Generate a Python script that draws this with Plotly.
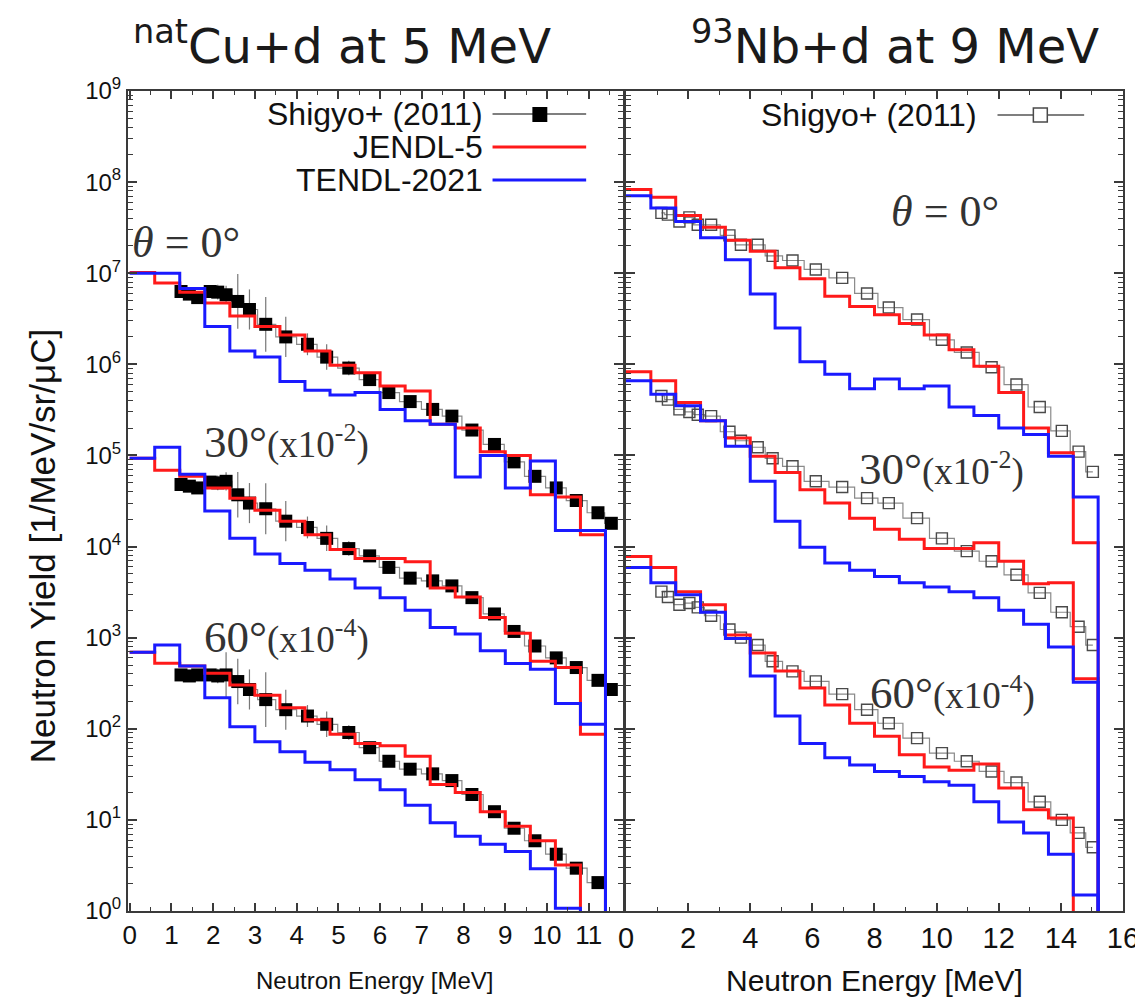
import plotly.graph_objects as go

# ---------------- data ----------------
# natCu+d at 5 MeV : calculation bins (MeV)
cu_edges = [0.0, 0.6, 1.2, 1.8, 2.4, 3.0, 3.6, 4.2, 4.8, 5.4, 6.0, 6.6, 7.2, 7.8, 8.4, 9.0, 9.6, 10.2, 10.8, 11.4]
cu_jendl_0 = [1.02e7, 7.8e6, 6.2e6, 4.7e6, 3.4e6, 2.6e6, 2.1e6, 1.4e6, 9.8e5, 8.1e5, 5.8e5, 5.1e5, 2.2e5, 2.0e5, 1.1e5, 1.0e5, 3.7e4, 3.5e4, 1.35e4]
cu_tendl_0 = [1.0e7, 1.0e7, 6.8e6, 2.6e6, 1.4e6, 1.2e6, 6.5e5, 5.2e5, 4.6e5, 4.9e5, 3.2e5, 2.4e5, 2.2e5, 5.8e4, 1.0e5, 4.4e4, 8.7e4, 1.5e4, 1.5e4]
cu_jendl_30 = [9.3e4, 6.9e4, 5.9e4, 4.4e4, 3.4e4, 2.5e4, 1.9e4, 1.35e4, 9.3e3, 7.4e3, 7.4e3, 6.8e3, 3.5e3, 2.8e3, 1.66e3, 1.12e3, 5.5e2, 4.7e2, 87]
cu_tendl_30 = [9.3e4, 1.23e5, 6.2e4, 2.45e4, 1.23e4, 8.3e3, 6.5e3, 5.5e3, 4.4e3, 3.5e3, 2.75e3, 2.0e3, 1.29e3, 1.1e3, 7.2e2, 5.2e2, 4.5e2, 1.9e2, 1.12e2]
cu_jendl_60 = [690, 525, 490, 407, 302, 234, 170, 126, 87, 69, 65, 50, 24.5, 20, 12.3, 8.5, 5.9, 3.2, None]
cu_tendl_60 = [690, 830, 490, 219, 105, 72, 56, 43, 35.5, 27.5, 21.4, 14.5, 9.3, 6.6, 5.4, 4.5, 2.9, 1.07, None]

cu_exp_e = [1.23, 1.43, 1.63, 1.93, 2.11, 2.31, 2.59, 2.87, 3.26, 3.74, 4.26, 4.72, 5.25, 5.75, 6.21, 6.72, 7.26, 7.72, 8.2, 8.74, 9.21, 9.71, 10.22, 10.7, 11.22, 11.54]
cu_exp_0 = [6.3e6, 5.9e6, 5.4e6, 6.3e6, 6.2e6, 5.8e6, 4.9e6, 4.0e6, 2.75e6, 2.0e6, 1.66e6, 1.2e6, 9.1e5, 6.8e5, 4.9e5, 3.9e5, 3.2e5, 2.7e5, 1.9e5, 1.32e5, 8.5e4, 5.9e4, 4.4e4, 3.2e4, 2.35e4, 1.8e4]
cu_exp_30 = [4.8e4, 4.6e4, 4.4e4, 5.1e4, 5.0e4, 5.2e4, 3.7e4, 3.0e4, 2.6e4, 1.9e4, 1.62e4, 1.23e4, 9.5e3, 7.9e3, 5.9e3, 4.5e3, 4.2e3, 3.7e3, 2.75e3, 1.82e3, 1.17e3, 8.1e2, 6.0e2, 4.7e2, 3.4e2, 2.7e2]
cu_exp_60 = [390, 380, 390, 390, 380, 390, 330, 270, 209, 162, 138, 112, 91, 62, 44, 36, 32, 27, 19, 12.3, 8.1, 5.9, 4.2, 2.95, 2.05, None]
cu_err_0 = [0.05, 0.06, 0.06, 0.06, 0.08, 0.10, 0.30, 0.22, 0.30, 0.22, 0.12, 0.14, 0.08, 0.06, 0.06, 0.05, 0.05, 0.05, 0.05, 0.04, 0.04, 0.04, 0.04, 0.04, 0.04, 0.04]
cu_err_30 = [0.05, 0.06, 0.06, 0.06, 0.08, 0.10, 0.25, 0.22, 0.28, 0.22, 0.12, 0.14, 0.08, 0.06, 0.06, 0.05, 0.05, 0.05, 0.05, 0.04, 0.04, 0.04, 0.04, 0.04, 0.04, 0.04]
cu_err_60 = [0.05, 0.06, 0.06, 0.06, 0.08, 0.25, 0.25, 0.22, 0.30, 0.22, 0.12, 0.14, 0.08, 0.06, 0.06, 0.05, 0.05, 0.05, 0.05, 0.04, 0.04, 0.04, 0.04, 0.04, 0.04, 0.04]

# 93Nb+d at 9 MeV
nb_edges = [0.0, 0.8, 1.6, 2.4, 3.2, 4.0, 4.8, 5.6, 6.4, 7.2, 8.0, 8.8, 9.6, 10.4, 11.2, 12.0, 12.8, 13.6, 14.4, 15.2]
nb_jendl_0 = [8.3e7, 6.8e7, 4.3e7, 3.2e7, 2.3e7, 1.74e7, 1.15e7, 8.7e6, 5.6e6, 4.3e6, 3.5e6, 2.8e6, 2.1e6, 1.45e6, 9.5e5, 4.9e5, 2.0e5, 1.07e5, 1.1e4]
nb_tendl_0 = [7.1e7, 5.2e7, 3.7e7, 2.45e7, 1.41e7, 5.9e6, 2.5e6, 1.07e6, 7.8e5, 5.4e5, 6.9e5, 5.4e5, 5.8e5, 3.4e5, 2.75e5, 2.0e5, 1.7e5, 9.8e4, 3.5e4]
nb_jendl_30 = [8.3e5, 6.6e5, 3.8e5, 2.4e5, 1.55e5, 9.8e4, 6.5e4, 4.2e4, 3.0e4, 2.05e4, 1.55e4, 1.2e4, 9.5e3, 9.5e3, 1.1e4, 6.9e3, 3.9e3, 4.0e3, 355]
nb_tendl_30 = [6.6e5, 4.7e5, 3.5e5, 2.4e5, 1.26e5, 5.2e4, 1.9e4, 9.8e3, 6.6e3, 5.5e3, 4.7e3, 4.0e3, 3.6e3, 3.2e3, 2.75e3, 2.0e3, 1.4e3, 7.9e2, 3.25e2]
nb_jendl_60 = [7.8e3, 5.9e3, 3.2e3, 2.3e3, 1.07e3, 680, 430, 280, 182, 115, 83, 52, 38, 35, 41, 22.4, 12.9, 10.5, None]
nb_tendl_60 = [5.9e3, 4.0e3, 2.95e3, 1.9e3, 980, 380, 138, 69, 48, 40, 34, 30, 26.3, 24, 15.8, 9.5, 7.2, 4.2, 1.5]

nb_exp_e = [1.14, 1.35, 1.72, 2.04, 2.31, 2.74, 3.33, 3.70, 4.24, 4.72, 5.36, 6.11, 6.96, 7.76, 8.46, 9.37, 10.17, 10.97, 11.77, 12.57, 13.32, 14.03, 14.57, 15.03]
nb_exp_0 = [4.6e7, 4.4e7, 3.7e7, 4.1e7, 3.4e7, 3.4e7, 2.6e7, 2.05e7, 2.05e7, 1.55e7, 1.38e7, 1.1e7, 8.9e6, 6.0e6, 4.2e6, 3.1e6, 1.86e6, 1.35e6, 9.3e5, 6.0e5, 3.4e5, 1.86e5, 1.1e5, 6.6e4]
nb_exp_30 = [4.5e5, 4.1e5, 3.2e5, 3.0e5, 2.8e5, 2.7e5, 1.82e5, 1.45e5, 1.23e5, 9.3e4, 7.6e4, 5.2e4, 4.5e4, 3.4e4, 3.0e4, 2.05e4, 1.23e4, 8.9e3, 6.9e3, 4.9e3, 3.1e3, 1.9e3, 1.32e3, 830]
nb_exp_60 = [3.2e3, 2.8e3, 2.3e3, 2.4e3, 2.15e3, 1.74e3, 1.23e3, 1.0e3, 830, 550, 427, 331, 240, 162, 115, 79, 54, 44, 34, 25.7, 15.8, 10.0, 7.2, 5.0]

cu_title = "<sup>nat</sup>Cu+d at 5 MeV"
nb_title = "<sup>93</sup>Nb+d at 9 MeV"
y_ticks = [1, 10, 100, 1e3, 1e4, 1e5, 1e6, 1e7, 1e8, 1e9]
y_ticktext = ["10<sup>%d</sup>" % k for k in range(10)]
cu_xticks = [0, 1, 2, 3, 4, 5, 6, 7, 8, 9, 10, 11]
nb_xticks = [0, 2, 4, 6, 8, 10, 12, 14, 16]

FLOOR = 1e-3  # value used for "no yield" (below the axis)

# ---------------- figure ----------------
W, H = 1143, 1003
L, R, T, B = 120, 24, 83, 100
PW, PH = W - L - R, H - T - B


def px(X):
    return (X - L) / PW


def py(Y):
    return (H - B - Y) / PH


RED = "#ff1a1a"
BLUE = "#1a1aff"

fig = go.Figure()


def step(edges, vals):
    ys = [v if v is not None else FLOOR for v in vals] + [FLOOR]
    return list(edges), ys


def add_exp(xa, ya, e, v, err, filled):
    kw = {}
    if err is not None:
        up = [None if val is None else val * (10 ** d - 1) for val, d in zip(v, err)]
        dn = [None if val is None else val * (1 - 10 ** (-d)) for val, d in zip(v, err)]
        kw["error_y"] = dict(type="data", array=up, arrayminus=dn, symmetric=False,
                             color="#777777", thickness=1.2, width=0)
    if filled:
        marker = dict(symbol="square", size=13, color="black")
    else:
        marker = dict(symbol="square-open", size=11, color="#4a4a4a", line=dict(width=1.4))
    fig.add_trace(go.Scatter(x=e, y=v, mode="lines+markers", xaxis=xa, yaxis=ya,
                             line=dict(shape="hvh", color="#8a8a8a", width=1.2),
                             marker=marker, showlegend=False, connectgaps=False, **kw))


def add_calc(xa, ya, edges, vals, color):
    xs, ys = step(edges, vals)
    fig.add_trace(go.Scatter(x=xs, y=ys, mode="lines", xaxis=xa, yaxis=ya,
                             line=dict(shape="hv", color=color, width=3),
                             showlegend=False))


for v, err in [(cu_exp_0, cu_err_0), (cu_exp_30, cu_err_30), (cu_exp_60, cu_err_60)]:
    add_exp("x", "y", cu_exp_e, v, err, True)
for v in [nb_exp_0, nb_exp_30, nb_exp_60]:
    add_exp("x2", "y2", nb_exp_e, v, None, False)

for vals in [cu_jendl_0, cu_jendl_30, cu_jendl_60]:
    add_calc("x", "y", cu_edges, vals, RED)
for vals in [cu_tendl_0, cu_tendl_30, cu_tendl_60]:
    add_calc("x", "y", cu_edges, vals, BLUE)
for vals in [nb_jendl_0, nb_jendl_30, nb_jendl_60]:
    add_calc("x2", "y2", nb_edges, vals, RED)
for vals in [nb_tendl_0, nb_tendl_30, nb_tendl_60]:
    add_calc("x2", "y2", nb_edges, vals, BLUE)

minor_y = [m * 10 ** k for k in range(9) for m in range(2, 10)]
AX = "#3a3a3a"
common_x = dict(ticks="inside", ticklen=8, tickwidth=1.5, tickcolor=AX, showline=True,
                linecolor=AX, linewidth=2, mirror="allticks", showgrid=False, zeroline=False)
common_y = dict(type="log", range=[0, 9], tickvals=y_ticks, ticktext=y_ticktext,
                ticks="inside", ticklen=9, tickwidth=1.5, tickcolor=AX, showline=True,
                linecolor=AX, linewidth=2, mirror="allticks", showgrid=False, zeroline=False,
                minor=dict(tickvals=minor_y, ticks="inside", ticklen=5, tickwidth=1, tickcolor=AX, showgrid=False))

fig.update_layout(
    width=W, height=H, margin=dict(l=L, r=R, t=T, b=B),
    paper_bgcolor="white", plot_bgcolor="white", showlegend=False,
    font=dict(family="Liberation Sans, Arial, sans-serif", color="#111111"),
    xaxis=dict(domain=[0, 497 / PW], range=[-0.04, 11.82], tickvals=cu_xticks,
               tickfont=dict(size=26), anchor="y",
               minor=dict(dtick=0.5, tick0=0, ticks="inside", ticklen=4, tickwidth=1, tickcolor=AX, showgrid=False),
               **common_x),
    xaxis2=dict(domain=[500 / PW, 1], range=[0, 16], tickvals=nb_xticks,
                tickfont=dict(size=29), anchor="y2",
                minor=dict(dtick=1, tick0=0, ticks="inside", ticklen=4, tickwidth=1, tickcolor=AX, showgrid=False),
                **common_x),
    yaxis=dict(anchor="x", tickfont=dict(size=24), **common_y),
    yaxis2=dict(anchor="x2", showticklabels=False, **common_y),
)

ann = []
# panel titles
ann.append(dict(text=cu_title, x=px(335), y=py(35), font=dict(family="DejaVu Sans", size=48, color="#1a1a1a")))
ann.append(dict(text=nb_title, x=px(890), y=py(35), font=dict(family="DejaVu Sans", size=48, color="#1a1a1a")))
# axis titles
ann.append(dict(text="Neutron Yield [1/MeV/sr/μC]", x=px(34), y=py(538), textangle=-90,
                font=dict(size=35)))
ann.append(dict(text="Neutron Energy [MeV]", x=px(367), y=py(972), font=dict(size=24)))
ann.append(dict(text="Neutron Energy [MeV]", x=px(870), y=py(972), font=dict(size=30)))
# angle labels
SERIF = "Liberation Serif, Times New Roman, serif"
GREY = "#333333"
ann.append(dict(text="<i>θ</i> = 0°", x=px(178), y=py(234), font=dict(family=SERIF, size=44, color=GREY)))
ann.append(dict(text="<i>θ</i> = 0°", x=px(940), y=py(203), font=dict(family=SERIF, size=44, color=GREY)))
for X, Y, a, s in [(279, 434, "30°", "-2"), (279, 629, "60°", "-4"), (937, 461, "30°", "-2"), (948, 685, "60°", "-4")]:
    ann.append(dict(text="<span style='font-size:45px'>%s</span>(x10<sup>%s</sup>)" % (a, s),
                    x=px(X), y=py(Y), font=dict(family=SERIF, size=37, color=GREY)))
# legend texts
LEG = dict(size=32, color="#111111")
for X, Y, t in [(478, 106, "Shigyo+ (2011)"), (478, 139, "JENDL-5"), (478, 172, "TENDL-2021"), (974, 107, "Shigyo+ (2011)")]:
    ann.append(dict(text=t, x=px(X), y=py(Y), xanchor="right", font=LEG))

for a in ann:
    a.setdefault("xanchor", "center")
    a.update(xref="paper", yref="paper", yanchor="middle", showarrow=False)
fig.update_layout(annotations=ann)

shapes = []
# legend samples
shapes.append(dict(type="line", x0=px(486), x1=px(580), y0=py(106), y1=py(106), line=dict(color="#555555", width=1.5)))
shapes.append(dict(type="rect", x0=px(526), x1=px(541), y0=py(114), y1=py(99), line=dict(width=0), fillcolor="black"))
shapes.append(dict(type="line", x0=px(486), x1=px(580), y0=py(139), y1=py(139), line=dict(color=RED, width=3)))
shapes.append(dict(type="line", x0=px(486), x1=px(580), y0=py(172), y1=py(172), line=dict(color=BLUE, width=3)))
shapes.append(dict(type="line", x0=px(993), x1=px(1080), y0=py(107), y1=py(107), line=dict(color="#555555", width=1.5)))
shapes.append(dict(type="rect", x0=px(1029), x1=px(1043), y0=py(114), y1=py(100), line=dict(color="#4a4a4a", width=1.5), fillcolor="white"))
for s in shapes:
    s.update(xref="paper", yref="paper")
fig.update_layout(shapes=shapes)

fig.write_html("out.html")
